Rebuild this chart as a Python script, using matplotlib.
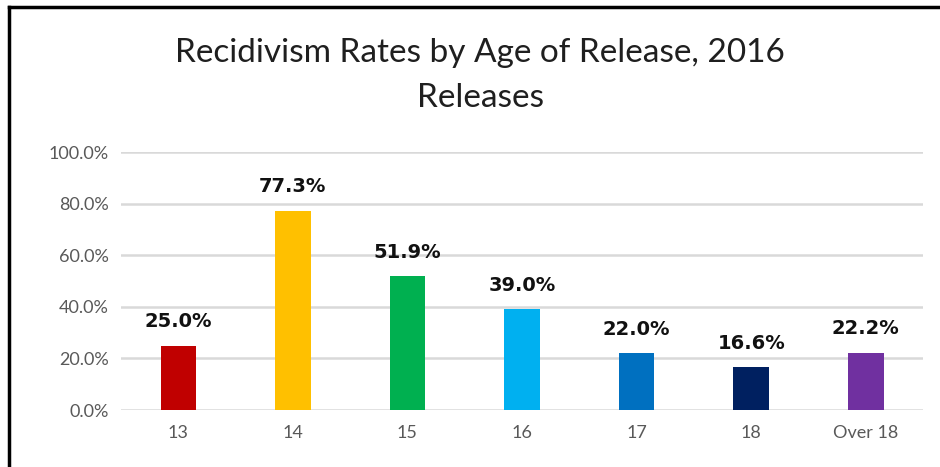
import numpy as np
import matplotlib.pyplot as plt
from matplotlib.lines import Line2D

# recidivism rate per release age group (fraction)
ages = ['13', '14', '15', '16', '17', '18', 'Over 18']
rates = [0.250, 0.773, 0.519, 0.390, 0.220, 0.166, 0.222]
colors = ['#C00000', '#FFC000', '#00B050', '#00B0F0', '#0070C0', '#002060', '#7030A0']

plt.rcParams['font.family'] = ['Lato', 'DejaVu Sans']

fig = plt.figure(figsize=(9.4, 4.67), dpi=100)
ax = fig.add_axes([0.1287, 0.122, 0.8533, 0.5525])

x = np.arange(len(ages))
ax.bar(x, rates, width=0.31, color=colors, zorder=3)
for xi, r in zip(x, rates):
    ax.text(xi, r + 0.072, '%.1f%%' % (r * 100), ha='center', va='baseline',
            fontsize=14, fontweight='bold', color='#111111', family='DejaVu Sans')

ax.set_xlim(-0.5, len(ages) - 0.5)
ax.set_ylim(0, 1.0)
ax.set_yticks(np.arange(0, 1.01, 0.2))
ax.set_yticklabels(['%.1f%%' % (v * 100) for v in np.arange(0, 1.01, 0.2)])
ax.set_xticks(x)
ax.set_xticklabels(ages)
ax.tick_params(length=0, labelsize=13, colors='#595959', pad=11)
ax.tick_params(axis='y', pad=9)
ax.grid(axis='y', color='#d9d9d9', linewidth=1.8, zorder=0)
for s in ax.spines.values():
    s.set_visible(False)

fig.text(0.511, 0.838, 'Recidivism Rates by Age of Release, 2016\nReleases',
         ha='center', va='center', fontsize=24, color='#1f1f1f', linespacing=1.6)

# black frame around the chart (left and top edges visible)
fig.add_artist(Line2D([0.0101, 0.0101], [0.0, 0.985], color='black', linewidth=2.5,
                      transform=fig.transFigure))
fig.add_artist(Line2D([0.0101, 1.0], [0.985, 0.985], color='black', linewidth=2.5,
                      transform=fig.transFigure))

fig.savefig('out.png', dpi=100)
